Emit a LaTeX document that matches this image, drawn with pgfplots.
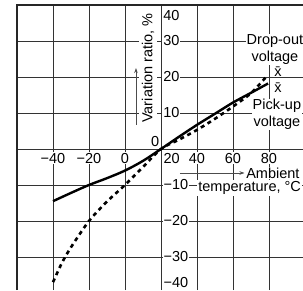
\documentclass[border=0pt]{standalone}
\usepackage{pgfplots}
\pgfplotsset{compat=1.18}
\usepackage{fontspec}
\setmainfont{Liberation Sans}
\usetikzlibrary{arrows.meta}
\begin{document}
\begin{tikzpicture}[font=\fontsize{14.5}{17}\selectfont]
\begin{axis}[
  at={(0pt,0pt)}, anchor=south west,
  scale only axis, width=286pt, height=285pt,
  xmin=-60, xmax=98.89, ymin=-39.17, ymax=40,
  axis line style={draw=none},
  xtick={-40,-20,0,20,40,60,80},
  ytick={-30,-20,-10,0,10,20,30},
  xticklabels={}, yticklabels={},
  major tick length=0pt,
  grid=major,
  major grid style={line width=0.9pt, black!80},
  clip=false,
]
% borders (left and top)
\draw[line width=1.8pt, black!85] (rel axis cs:0,0) -- (rel axis cs:0,1) -- (rel axis cs:1,1);
% pick-up (solid)
\addplot[black, line width=2.4pt, smooth, no marks] coordinates {
 (-40,-14.5) (-30,-12.2) (-20,-10) (-10,-8.1) (0,-6) (10,-3.3) (20,0)
 (30,3.4) (40,6.7) (50,9.8) (60,12.9) (70,15.6) (79.5,18.2)
};
% drop-out (dashed)
\addplot[black, line width=2.6pt, smooth, no marks, dash pattern=on 4pt off 3.8pt] coordinates {
 (-40,-37) (-35,-31.6) (-30,-27.3) (-20,-20) (-10,-14.6) (0,-10) (10,-5) (20,0)
 (30,2.6) (40,5.3) (50,8.4) (60,11.8) (70,15.5) (78,19.8)
};
% y tick labels
\node[anchor=west, fill=white, inner sep=1pt] at (axis cs:20.6,37.2) {40};
\node[anchor=west, fill=white, inner sep=1pt] at (axis cs:20.6,30) {30};
\node[anchor=west, fill=white, inner sep=1pt] at (axis cs:20.6,20) {20};
\node[anchor=west, fill=white, inner sep=1pt] at (axis cs:20.6,10) {10};
\node[anchor=base east, inner sep=1pt] at (axis cs:19.6,0.8) {0};
\node[anchor=west, fill=white, inner sep=1pt] at (axis cs:20.8,-10) {−10};
\node[anchor=west, fill=white, inner sep=1pt] at (axis cs:20.8,-20) {−20};
\node[anchor=west, fill=white, inner sep=1pt] at (axis cs:20.8,-30) {−30};
\node[anchor=west, fill=white, inner sep=1pt] at (axis cs:20.8,-37.2) {−40};
% x tick labels
\node[fill=white, inner sep=1pt] at (axis cs:-40,-2.6) {−40};
\node[fill=white, inner sep=1pt] at (axis cs:-20,-2.6) {−20};
\node[fill=white, inner sep=1pt] at (axis cs:0,-2.6) {0};
\node[anchor=west, fill=white, inner sep=1pt] at (axis cs:20.8,-2.6) {20};
\node[fill=white, inner sep=1pt] at (axis cs:40,-2.6) {40};
\node[fill=white, inner sep=1pt] at (axis cs:60,-2.6) {60};
\node[fill=white, inner sep=1pt] at (axis cs:80,-2.6) {80};
% axis titles
\draw[black!70, line width=0.8pt, -{Stealth[length=5pt,width=3.5pt]}] (axis cs:30.5,-6.67) -- (axis cs:66.4,-6.67);
\node[anchor=west, fill=white, inner sep=1pt] at (axis cs:66.7,-6.67) {Ambient};
\node[anchor=east, fill=white, inner sep=1pt] at (axis cs:98.4,-10.83) {temperature, °C};
\node[rotate=90, fill=white, inner sep=3pt] at (axis cs:12.8,22.5) {Variation ratio, \%};
\draw[black!70, line width=0.8pt, -{Stealth[length=5pt,width=3.5pt]}] (axis cs:6.1,6.67) -- (axis cs:6.1,22.5);
% curve labels
\node[align=center, fill=white, inner sep=0.5pt] at (axis cs:83.3,27.7) {Drop-out\\voltage};
\node[align=center, fill=white, inner sep=0.5pt] at (axis cs:84.4,9.6) {Pick-up\\voltage};
\node[inner sep=0pt] at (axis cs:85,21.4) {\={x}};
\node[inner sep=0pt] at (axis cs:85,17.0) {\={x}};
\end{axis}
\pgfresetboundingbox
\path[use as bounding box] (-17pt,0pt) rectangle (286pt,290pt);
\end{tikzpicture}
\end{document}
